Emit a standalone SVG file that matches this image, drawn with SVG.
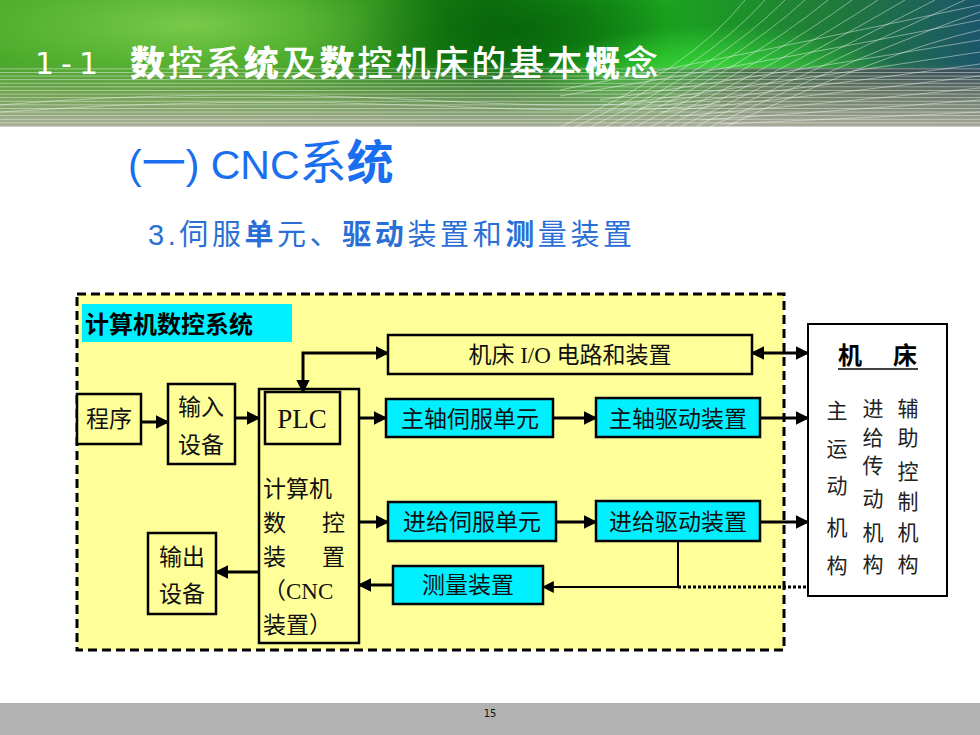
<svg xmlns="http://www.w3.org/2000/svg" width="980" height="735" viewBox="0 0 980 735">
<defs>
  <linearGradient id="hdrBase" x1="0" y1="0" x2="1" y2="0">
    <stop offset="0" stop-color="#44a526"/>
    <stop offset="0.3" stop-color="#319a18"/>
    <stop offset="0.5" stop-color="#0f7610"/>
    <stop offset="0.68" stop-color="#1ba51e"/>
    <stop offset="0.85" stop-color="#1f7a3a"/>
    <stop offset="1" stop-color="#1c566a"/>
  </linearGradient>
  <radialGradient id="glowL" cx="0.5" cy="0.5" r="0.5">
    <stop offset="0" stop-color="#8fd85a" stop-opacity="0.75"/>
    <stop offset="1" stop-color="#8fd85a" stop-opacity="0"/>
  </radialGradient>
  <radialGradient id="glowD" cx="0.5" cy="0.5" r="0.5">
    <stop offset="0" stop-color="#05600a" stop-opacity="0.8"/>
    <stop offset="1" stop-color="#05600a" stop-opacity="0"/>
  </radialGradient>
  <radialGradient id="glowB" cx="0.5" cy="0.5" r="0.5">
    <stop offset="0" stop-color="#44ee44" stop-opacity="0.8"/>
    <stop offset="1" stop-color="#44ee44" stop-opacity="0"/>
  </radialGradient>
  <linearGradient id="lowBand" x1="0" y1="0" x2="0" y2="1">
    <stop offset="0" stop-color="#9aa27a" stop-opacity="0"/>
    <stop offset="0.45" stop-color="#9aa27a" stop-opacity="0.5"/>
    <stop offset="1" stop-color="#b0b0a0" stop-opacity="0.95"/>
  </linearGradient>
  <linearGradient id="rightDark" x1="0" y1="0" x2="1" y2="0">
    <stop offset="0" stop-color="#404848" stop-opacity="0"/>
    <stop offset="0.4" stop-color="#404848" stop-opacity="0.75"/>
    <stop offset="1" stop-color="#2a3f55" stop-opacity="0.9"/>
  </linearGradient>
  <pattern id="hlines" x="0" y="0" width="10" height="3.6" patternUnits="userSpaceOnUse">
    <rect x="0" y="0" width="10" height="0.9" fill="#ffffff" fill-opacity="0.45"/>
  </pattern>
  <marker id="arr" viewBox="0 0 10 10" refX="9" refY="5" markerWidth="4.5" markerHeight="4.5" orient="auto-start-reverse" markerUnits="strokeWidth">
    <path d="M0,0 L10,5 L0,10 z" fill="#000"/>
  </marker>
  <marker id="arrS" viewBox="0 0 10 10" refX="9" refY="5" markerWidth="6" markerHeight="6" orient="auto-start-reverse" markerUnits="strokeWidth">
    <path d="M0,0 L10,5 L0,10 z" fill="#000"/>
  </marker>
</defs>
<style>
  .ybox { fill: #ffff99; stroke: #000; stroke-width: 2.5; }
  .cbox { fill: #00f0ff; stroke: #000; stroke-width: 2.5; }
  .wbox { fill: #ffffff; stroke: #000; stroke-width: 2; }
  .t { font-family: "Liberation Serif", "Noto Sans CJK SC", serif; font-size: 23px; fill: #111; }
  .tc { text-anchor: middle; }
  .big { font-size: 27px; }
  .m { font-family: "Noto Sans CJK SC", sans-serif; font-size: 21px; fill: #222; text-anchor: middle; }
  .conn { fill: none; stroke: #000; stroke-width: 3; }
  .connT { fill: none; stroke: #000; stroke-width: 2; }
</style>

<!-- background -->
<rect x="0" y="0" width="980" height="735" fill="#ffffff"/>

<!-- header banner -->
<g id="header">
  <rect x="0" y="0" width="980" height="127" fill="url(#hdrBase)"/>
  <ellipse cx="190" cy="25" rx="260" ry="70" fill="url(#glowL)"/>
  <ellipse cx="520" cy="30" rx="170" ry="60" fill="url(#glowD)"/>
  <ellipse cx="720" cy="75" rx="180" ry="50" fill="url(#glowB)"/>
  <rect x="600" y="68" width="380" height="59" fill="url(#rightDark)"/>
  <rect x="0" y="62" width="980" height="65" fill="url(#lowBand)"/>
  <rect x="0" y="68" width="980" height="59" fill="url(#hlines)"/>
  <g fill="none" stroke="#ffffff" stroke-opacity="0.55" stroke-width="0.8">
    <path d="M560,127 Q690,70 745,0"/>
    <path d="M575,127 Q705,68 765,0"/>
    <path d="M590,127 Q720,66 785,0"/>
    <path d="M605,127 Q735,64 805,0"/>
    <path d="M620,127 Q752,62 828,0"/>
    <path d="M635,127 Q770,60 852,0"/>
    <path d="M650,127 Q790,58 878,0"/>
    <path d="M665,127 Q810,56 905,0"/>
    <path d="M680,127 Q830,54 935,0"/>
    <path d="M695,127 Q850,52 965,0"/>
    <path d="M710,127 Q870,50 980,12"/>
    <path d="M725,127 Q890,50 980,30"/>
    <path d="M600,100 Q800,70 980,40"/>
    <path d="M620,104 Q810,78 980,52"/>
    <path d="M640,108 Q820,86 980,64"/>
    <path d="M660,112 Q830,94 980,76"/>
    <path d="M680,116 Q840,102 980,88"/>
    <path d="M700,120 Q850,110 980,100"/>
    <path d="M720,124 Q860,118 980,112"/>
    <path d="M560,96 Q780,60 980,20"/>
    <path d="M560,90 Q770,50 980,5"/>
    <path d="M0,105 Q200,88 420,100 T700,95"/>
    <path d="M0,112 Q220,96 440,106 T720,102"/>
  </g>
  <text x="35" y="74" font-family="DejaVu Sans" font-size="30" fill="#ffffff" letter-spacing="7">1-1</text>
  <text x="130" y="76" font-family="Noto Sans CJK SC, sans-serif" font-size="35" fill="#ffffff" font-weight="500" textLength="528" lengthAdjust="spacing"><tspan font-weight="900">数</tspan>控系<tspan font-weight="900">统</tspan>及<tspan font-weight="900">数</tspan>控机床的基本<tspan font-weight="900">概</tspan>念</text>
</g>

<!-- headings -->
<text x="128" y="179" font-family="Liberation Sans, Noto Sans CJK SC, sans-serif" font-size="41" fill="#1a6ff0">(<tspan font-family="Noto Sans CJK SC, sans-serif" font-size="44">一</tspan>) CNC<tspan font-family="Noto Sans CJK SC, sans-serif" font-size="47">系</tspan><tspan font-family="Noto Sans CJK SC, sans-serif" font-size="47" font-weight="bold">统</tspan></text>
<text x="148" y="245" font-family="Liberation Sans, Noto Sans CJK SC, sans-serif" font-size="29" fill="#2a6fd6" textLength="484" lengthAdjust="spacing">3.伺服<tspan font-weight="bold">单</tspan>元、<tspan font-weight="bold">驱动</tspan>装置和<tspan font-weight="bold">测</tspan>量装置</text>

<!-- system area -->
<g id="cnc-system">
  <rect x="77" y="294" width="707" height="356" fill="#ffff99" stroke="#000" stroke-width="3" stroke-dasharray="9,5"/>
  <rect x="82" y="304" width="210" height="38" fill="#00f0ff"/>
  <text x="85" y="333" font-family="Noto Sans CJK SC, sans-serif" font-size="24" font-weight="bold" fill="#000">计算机数控系统</text>
</g>

<g id="program">
  <rect class="ybox" x="77" y="394" width="64" height="50"/>
  <text class="t tc" x="109" y="427">程序</text>
</g>
<g id="input">
  <rect class="ybox" x="168" y="384" width="67" height="80"/>
  <text class="t tc" x="201" y="415">输入</text>
  <text class="t tc" x="201" y="453">设备</text>
</g>
<g id="cnc">
  <rect class="ybox" x="259" y="389" width="100" height="254"/>
  <text class="t" x="263" y="497">计算机</text>
  <text class="t" x="263" y="531">数</text>
  <text class="t" x="322" y="531">控</text>
  <text class="t" x="263" y="565">装</text>
  <text class="t" x="322" y="565">置</text>
  <text class="t" x="263" y="599">（CNC</text>
  <text class="t" x="263" y="633">装置）</text>
</g>
<g id="plc">
  <rect class="ybox" x="265" y="392" width="75" height="52"/>
  <text class="t tc big" x="302" y="428">PLC</text>
</g>
<g id="output">
  <rect class="ybox" x="148" y="533" width="68" height="81"/>
  <text class="t tc" x="182" y="565">输出</text>
  <text class="t tc" x="182" y="602">设备</text>
</g>
<g id="io">
  <rect class="ybox" x="388" y="335" width="364" height="39"/>
  <text class="t tc" x="570" y="363">机床 I/O 电路和装置</text>
</g>
<g id="spindle-servo">
  <rect class="cbox" x="386" y="399" width="167" height="38"/>
  <text class="t tc" x="470" y="427">主轴伺服单元</text>
</g>
<g id="spindle-drive">
  <rect class="cbox" x="596" y="398" width="164" height="39"/>
  <text class="t tc" x="678" y="427">主轴驱动装置</text>
</g>
<g id="feed-servo">
  <rect class="cbox" x="388" y="502" width="168" height="39"/>
  <text class="t tc" x="472" y="530">进给伺服单元</text>
</g>
<g id="feed-drive">
  <rect class="cbox" x="596" y="501" width="164" height="40"/>
  <text class="t tc" x="678" y="530">进给驱动装置</text>
</g>
<g id="measure">
  <rect class="cbox" x="393" y="566" width="150" height="38"/>
  <text class="t tc" x="468" y="593">测量装置</text>
</g>

<g id="machine">
  <rect class="wbox" x="808" y="324" width="139" height="272"/>
  <text x="838" y="364" font-family="Noto Sans CJK SC, sans-serif" font-size="24" font-weight="bold" fill="#000">机</text>
  <text x="893" y="364" font-family="Noto Sans CJK SC, sans-serif" font-size="24" font-weight="bold" fill="#000">床</text>
  <line x1="838" y1="369" x2="918" y2="369" stroke="#000" stroke-width="1.5"/>
  <text class="m" x="837" y="418">主</text>
  <text class="m" x="837" y="456">运</text>
  <text class="m" x="837" y="493">动</text>
  <text class="m" x="837" y="535">机</text>
  <text class="m" x="837" y="573">构</text>
  <text class="m" x="873" y="416">进</text>
  <text class="m" x="873" y="445">给</text>
  <text class="m" x="873" y="473">传</text>
  <text class="m" x="873" y="506">动</text>
  <text class="m" x="873" y="540">机</text>
  <text class="m" x="873" y="572">构</text>
  <text class="m" x="908" y="416">辅</text>
  <text class="m" x="908" y="445">助</text>
  <text class="m" x="908" y="479">控</text>
  <text class="m" x="908" y="509">制</text>
  <text class="m" x="908" y="540">机</text>
  <text class="m" x="908" y="572">构</text>
</g>

<g id="connectors">
  <line class="conn" x1="141" y1="422" x2="168" y2="422" marker-end="url(#arr)"/>
  <line class="conn" x1="235" y1="418" x2="259" y2="418" marker-end="url(#arr)"/>
  <path class="conn" d="M388,353 H303 V392" marker-start="url(#arr)" marker-end="url(#arr)"/>
  <line class="conn" x1="752" y1="353" x2="808" y2="353" marker-start="url(#arr)" marker-end="url(#arr)"/>
  <line class="conn" x1="359" y1="418" x2="386" y2="418" marker-end="url(#arr)"/>
  <line class="conn" x1="553" y1="418" x2="596" y2="418" marker-end="url(#arr)"/>
  <line class="conn" x1="760" y1="418" x2="808" y2="418" marker-end="url(#arr)"/>
  <line class="conn" x1="359" y1="522" x2="388" y2="522" marker-end="url(#arr)"/>
  <line class="conn" x1="556" y1="522" x2="596" y2="522" marker-end="url(#arr)"/>
  <line class="conn" x1="760" y1="522" x2="808" y2="522" marker-end="url(#arr)"/>
  <path class="connT" d="M678,541 V587 H543" marker-end="url(#arrS)"/>
  <line x1="678" y1="587" x2="808" y2="587" stroke="#000" stroke-width="3" stroke-dasharray="3,2"/>
  <line class="conn" x1="393" y1="585" x2="359" y2="585" marker-end="url(#arr)"/>
  <line class="conn" x1="259" y1="572" x2="216" y2="572" marker-end="url(#arr)"/>
</g>

<!-- footer -->
<rect x="0" y="703" width="980" height="32" fill="#b2b2b2"/>
<text x="490" y="717" font-family="DejaVu Sans, sans-serif" font-size="10" fill="#111" text-anchor="middle">15</text>
</svg>
